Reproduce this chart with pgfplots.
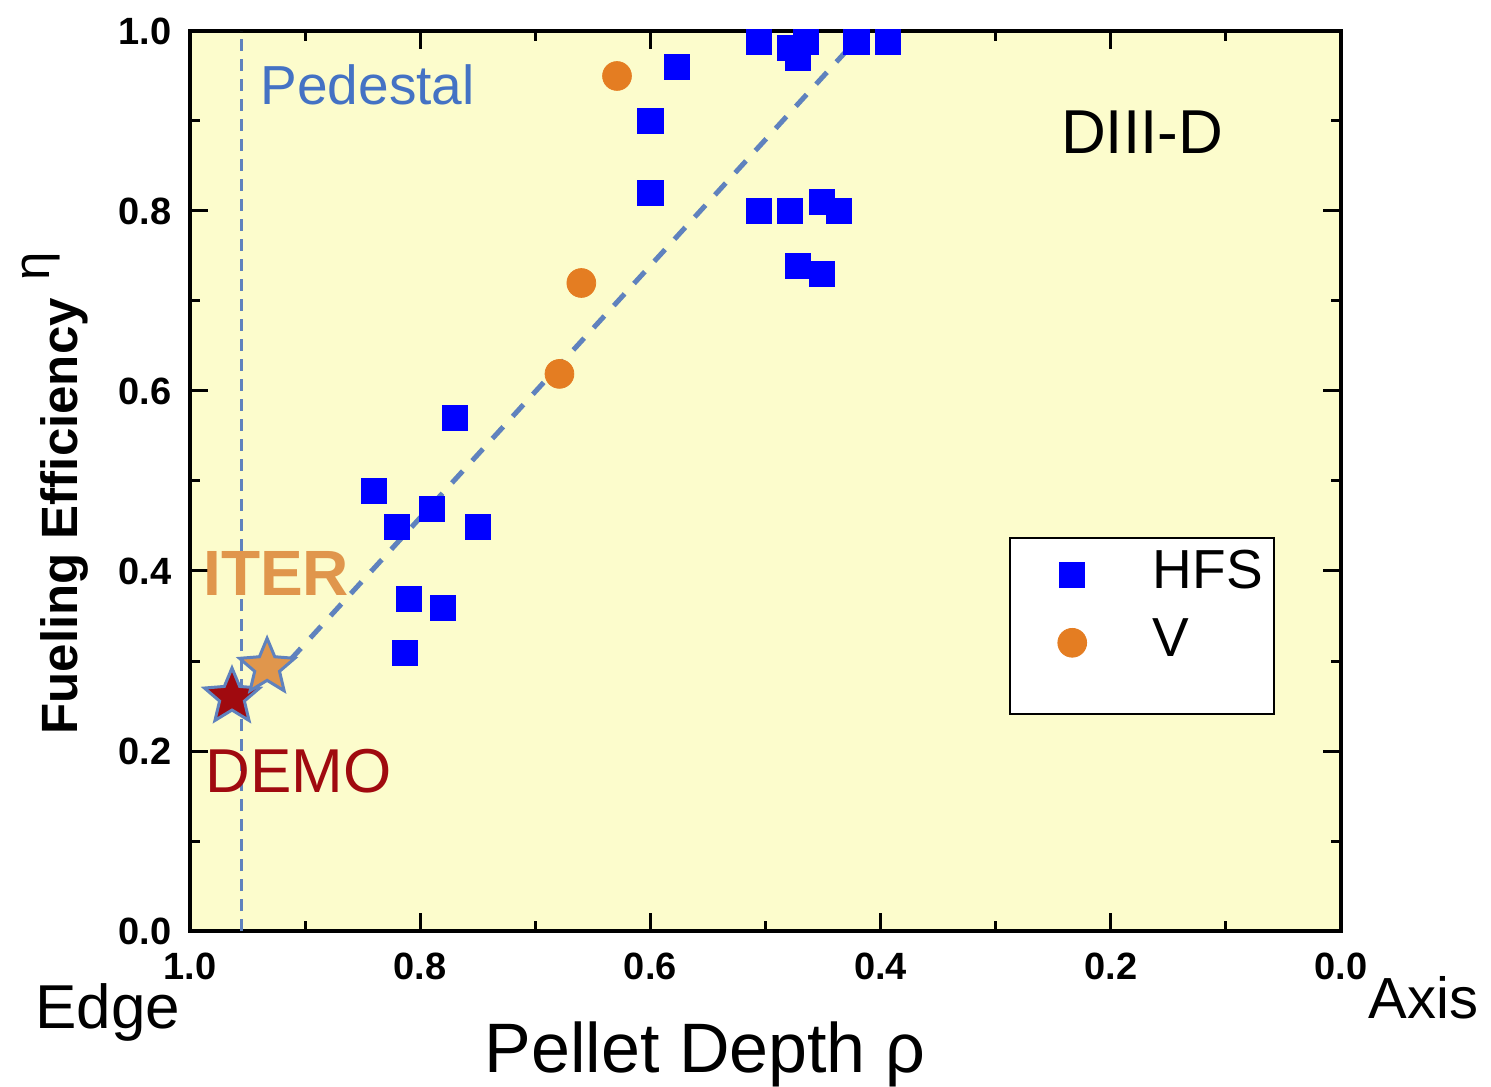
\documentclass[border=0pt]{standalone}
\usepackage{pgfplots}
\pgfplotsset{compat=1.18}
\usepackage{fontspec}
\setmainfont{Liberation Sans}

\definecolor{bgyellow}{RGB}{252,252,204}
\definecolor{hfsblue}{RGB}{0,0,255}
\definecolor{vorange}{RGB}{228,125,34}
\definecolor{pedblue}{RGB}{68,114,196}
\definecolor{fitblue}{RGB}{95,130,190}
\definecolor{iterorange}{RGB}{224,150,76}
\definecolor{demored}{RGB}{160,10,15}

% filled five-point star mark
\pgfdeclareplotmark{fstar}{%
  \pgfpathmoveto{\pgfpointpolar{90}{\pgfplotmarksize}}%
  \pgfpathlineto{\pgfpointpolar{126}{0.45*\pgfplotmarksize}}%
  \pgfpathlineto{\pgfpointpolar{162}{\pgfplotmarksize}}%
  \pgfpathlineto{\pgfpointpolar{198}{0.45*\pgfplotmarksize}}%
  \pgfpathlineto{\pgfpointpolar{234}{\pgfplotmarksize}}%
  \pgfpathlineto{\pgfpointpolar{270}{0.45*\pgfplotmarksize}}%
  \pgfpathlineto{\pgfpointpolar{306}{\pgfplotmarksize}}%
  \pgfpathlineto{\pgfpointpolar{342}{0.45*\pgfplotmarksize}}%
  \pgfpathlineto{\pgfpointpolar{18}{\pgfplotmarksize}}%
  \pgfpathlineto{\pgfpointpolar{54}{0.45*\pgfplotmarksize}}%
  \pgfpathclose
  \pgfusepathqfillstroke
}

\begin{document}
\begin{tikzpicture}
\useasboundingbox (-95pt,-77.5pt) rectangle (650.5pt,465.5pt);
\begin{axis}[
    at={(0,0)}, anchor=south west,
    scale only axis, width=575.5pt, height=450pt,
    x dir=reverse,
    xmin=0, xmax=1, ymin=0, ymax=1,
    xtick={0,0.2,0.4,0.6,0.8,1}, ytick={0,0.2,0.4,0.6,0.8,1},
    minor tick num=1,
    tick align=inside,
    major tick length=9pt, minor tick length=5pt,
    every tick/.append style={black, line width=1.5pt},
    axis line style={line width=2pt},
    axis background/.style={fill=bgyellow},
    /pgf/number format/assume math mode=true,
    /pgf/number format/fixed, /pgf/number format/fixed zerofill,
    /pgf/number format/precision=1,
    tick label style={font=\fontsize{19}{19}\selectfont\bfseries},
    xticklabel style={anchor=north, inner sep=0pt, yshift=-11pt},
    yticklabel style={anchor=east, inner sep=0pt, xshift=-9pt},
    clip=false,
    legend style={at={(0.7145,0.434)}, anchor=north west, draw=none, fill=none,
        inner xsep=0pt, inner ysep=2pt, row sep=4pt, column sep=29.5pt,
        font=\fontsize{27.5}{30}\selectfont,
        nodes={inner sep=2pt, text height=20pt, text depth=6pt}},
    legend cell align=left,
    legend image code/.code={
        \path (-21pt,0pt) (0.6cm,0pt);
        \draw[mark repeat=2,mark phase=2,#1] plot coordinates {(0cm,0cm) (0.3cm,0cm) (0.6cm,0cm)};
    },
]

% legend frame
\draw[fill=white, line width=0.8pt] (axis cs:0.2876,0.4367) rectangle (axis cs:0.0582,0.2411);

% HFS pellets
\addplot[only marks, mark=square*, mark size=6.3pt, color=hfsblue] coordinates {
    (0.506,0.988) (0.479,0.981) (0.465,0.988) (0.472,0.970) (0.421,0.988) (0.394,0.988)
    (0.577,0.960) (0.600,0.900) (0.600,0.820)
    (0.506,0.800) (0.479,0.800) (0.451,0.810) (0.436,0.800) (0.472,0.739) (0.451,0.730)
    (0.770,0.570) (0.840,0.489) (0.790,0.469) (0.820,0.449) (0.750,0.449)
    (0.810,0.369) (0.780,0.359) (0.813,0.309)
};
\addlegendentry{HFS}

% V pellets
\addplot[only marks, mark=*, mark size=7.2pt, color=vorange] coordinates {
    (0.629,0.950) (0.660,0.720) (0.679,0.619)
};
\addlegendentry{V}

% DEMO and ITER
\addplot[forget plot, only marks, mark=fstar, mark size=14.5pt, color=fitblue,
    mark options={fill=demored, line width=1.5pt}] coordinates {(0.9635,0.260)};
\addplot[forget plot, only marks, mark=fstar, mark size=14.5pt, color=fitblue,
    mark options={fill=iterorange, line width=1.5pt}] coordinates {(0.933,0.293)};

% trend line
\addplot[forget plot, color=fitblue, line width=2.5pt, dash pattern=on 8pt off 7pt] coordinates {
    (0.913,0.301) (0.421,0.990)
};

% pedestal boundary
\addplot[forget plot, color=fitblue, line width=1.3pt, dash pattern=on 6pt off 4pt] coordinates {
    (0.955,0) (0.955,1)
};

\node[anchor=base west, inner sep=0pt, text=pedblue, font=\fontsize{27.5}{30}\selectfont] at (axis cs:0.939,0.918) {Pedestal};
\node[anchor=base west, inner sep=0pt, font=\fontsize{31}{33}\selectfont] at (axis cs:0.2435,0.8644) {DIII-D};
\node[anchor=base west, inner sep=0pt, text=iterorange, font=\fontsize{32}{34}\selectfont\bfseries] at (axis cs:0.9887,0.373) {ITER};
\node[anchor=base west, inner sep=0pt, text=demored, font=\fontsize{31}{33}\selectfont] at (axis cs:0.987,0.1544) {DEMO};

% axis titles
\node[anchor=base, inner sep=0pt, font=\fontsize{35}{37}\selectfont] at (axis cs:0.5526,-0.1567) {Pellet Depth ρ};
\node[anchor=base west, inner sep=0pt, font=\fontsize{31}{33}\selectfont] at (axis cs:1.1347,-0.1078) {Edge};
\node[anchor=base west, inner sep=0pt, font=\fontsize{29}{31}\selectfont] at (axis cs:-0.0235,-0.0967) {Axis};
\node[anchor=base west, inner sep=0pt, rotate=90, font=\fontsize{25.5}{28}\selectfont] at (axis cs:1.098,0.2178)
    {\textbf{Fueling Efficiency}\hspace{9pt}\raisebox{14pt}{η}};

\end{axis}
\end{tikzpicture}
\end{document}
